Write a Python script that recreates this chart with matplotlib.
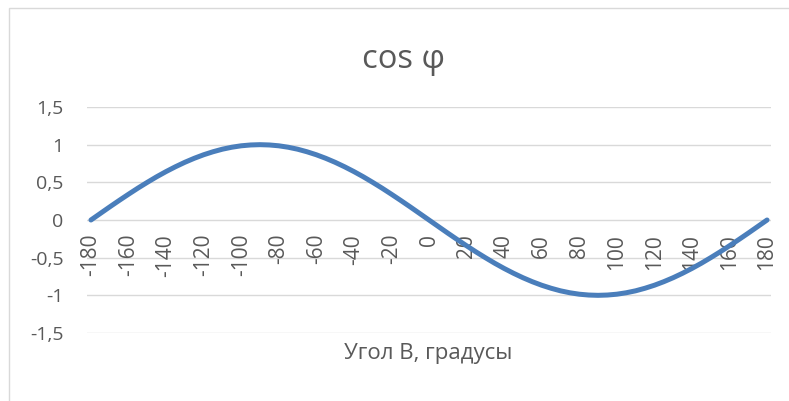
import matplotlib
matplotlib.use("Agg")
import matplotlib.pyplot as plt
from matplotlib.patches import Rectangle
from matplotlib.ticker import FuncFormatter
import matplotlib.transforms as mtrans

angles = list(range(-180, 181, 5))
values = [0.0, 0.087, 0.174, 0.259, 0.342, 0.423, 0.5, 0.574, 0.643, 0.707,
          0.766, 0.819, 0.866, 0.906, 0.94, 0.966, 0.985, 0.996, 1.0,
          0.996, 0.985, 0.966, 0.94, 0.906, 0.866, 0.819, 0.766, 0.707,
          0.643, 0.574, 0.5, 0.423, 0.342, 0.259, 0.174, 0.087, 0.0,
          -0.087, -0.174, -0.259, -0.342, -0.423, -0.5, -0.574, -0.643, -0.707,
          -0.766, -0.819, -0.866, -0.906, -0.94, -0.966, -0.985, -0.996, -1.0,
          -0.996, -0.985, -0.966, -0.94, -0.906, -0.866, -0.819, -0.766, -0.707,
          -0.643, -0.574, -0.5, -0.423, -0.342, -0.259, -0.174, -0.087, 0.0]
x_ticks = list(range(-180, 181, 20))
y_ticks = [-1.5, -1, -0.5, 0, 0.5, 1, 1.5]
title = "cos φ"
x_label = "Угол В, градусы"

plt.rcParams['font.family'] = ['Open Sans', 'DejaVu Sans']
W, H = 789, 401
fig = plt.figure(figsize=(W / 100, H / 100), dpi=100)
fig.patch.set_facecolor('white')

# chart border (left and top visible)
fig.patches.append(Rectangle((9 / W, -0.1), 2.0, (H - 8) / H + 0.1, transform=fig.transFigure,
                             fill=False, edgecolor='#d9d9d9', linewidth=1.0))

left, right = 87 / W, 771 / W
top, bottom = 1 - 107 / H, 1 - 333 / H
ax = fig.add_axes([left, bottom, right - left, top - bottom])
ax.set_xlim(-182.1, 182.1)
ax.set_ylim(-1.5, 1.5)

for yv in y_ticks:
    ax.axhline(yv, color='#d9d9d9', linewidth=1.0, zorder=1)

ax.plot(angles, values, color='#4a7ebb', linewidth=3.6, solid_capstyle='round',
        solid_joinstyle='round', zorder=3)

for s in ax.spines.values():
    s.set_visible(False)

ax.set_yticks(y_ticks)
ax.yaxis.set_major_formatter(FuncFormatter(lambda v, p: ('%g' % v).replace('.', ',')))
ax.tick_params(axis='y', length=0, pad=17, labelsize=14, labelcolor='#595959')

ax.set_xticks([])
off = mtrans.ScaledTranslation(0, -14 / 100, fig.dpi_scale_trans)
for xv in x_ticks:
    ax.text(xv, 0, str(xv), rotation=90, ha='center', va='top',
            fontsize=15, color='#595959', transform=ax.transData + off, zorder=2)

fig.text(404 / W, 1 - 60 / H, title, ha='center', va='center', fontsize=23.5, color='#595959')
fig.text(428 / W, 1 - 354 / H, x_label, ha='center', va='center', fontsize=16, color='#595959')

fig.savefig('out.png', dpi=100)
